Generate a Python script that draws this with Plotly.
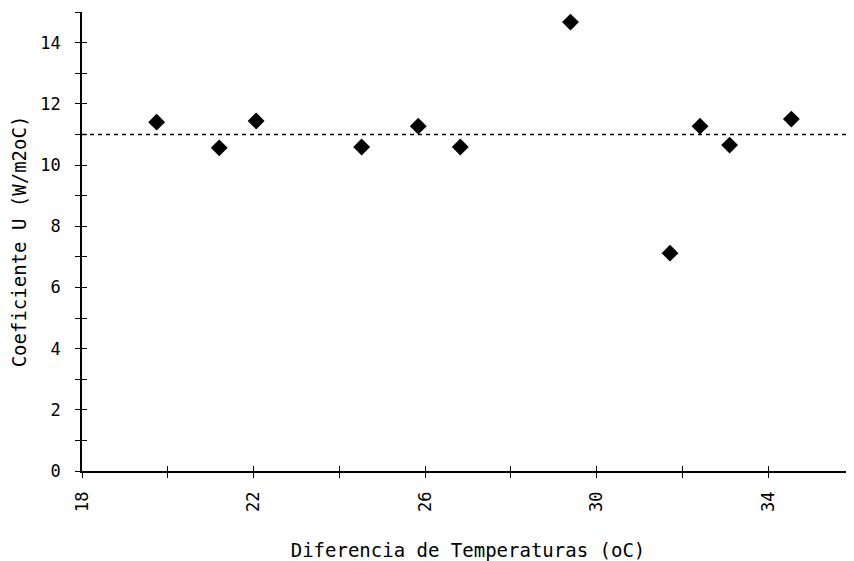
import plotly.graph_objects as go

# Data
temp_diff = [19.74, 21.2, 22.06, 24.52, 25.84, 26.82, 29.39, 31.71, 32.41, 33.1, 34.54]
u_coef = [11.4, 10.56, 11.44, 10.59, 11.27, 10.59, 14.67, 7.12, 11.27, 10.65, 11.5]
u_mean = 11.0

x_range = [18, 36]
y_range = [0, 15]
x_title = "Diferencia de Temperaturas (oC)"
y_title = "Coeficiente U (W/m2oC)"

MONO = "DejaVu Sans Mono, Liberation Mono, monospace"

fig = go.Figure()
fig.add_trace(go.Scatter(
    x=temp_diff, y=u_coef, mode="markers",
    marker=dict(symbol="diamond", size=13, color="black"),
    showlegend=False, cliponaxis=False, hoverinfo="x+y",
))
# mean line drawn on the overlay axes (which carry the inward tick marks)
fig.add_trace(go.Scatter(
    x=x_range, y=[u_mean, u_mean], mode="lines", xaxis="x2", yaxis="y2",
    line=dict(color="black", width=1.5, dash="4px,4px"),
    showlegend=False, hoverinfo="skip",
))

tick_style = dict(tickcolor="black", tickwidth=1.2, ticklen=5)
axis_common = dict(showgrid=False, zeroline=False, showline=True, linecolor="black",
                   linewidth=1.5, automargin=False, **tick_style)

# the page body adds an 8px offset, so the figure is sized to fit the 854x561 window
fig.update_layout(
    width=846, height=553,
    margin=dict(l=74, r=0, t=4, b=90),
    plot_bgcolor="white", paper_bgcolor="white",
    font=dict(family=MONO, color="black", size=17),
    xaxis=dict(range=x_range, dtick=4, tick0=18, ticks="outside", tickangle=-90,
               minor=dict(dtick=2, ticks="outside", **tick_style),
               title=dict(text=x_title, font=dict(size=19, family=MONO), standoff=38),
               tickfont=dict(size=17, family=MONO), ticklabelstandoff=7,
               **axis_common),
    yaxis=dict(range=y_range, dtick=2, tick0=0, ticks="outside",
               minor=dict(dtick=1, ticks="outside", **tick_style),
               title=dict(text=y_title, font=dict(size=19, family=MONO), standoff=16),
               tickfont=dict(size=17, family=MONO), ticklabelstandoff=11,
               **axis_common),
    xaxis2=dict(range=x_range, overlaying="x", side="bottom", anchor="y2", showgrid=False,
                zeroline=False, showticklabels=False, showline=False, ticks="inside",
                dtick=2, tick0=18, automargin=False, **tick_style),
    yaxis2=dict(range=y_range, overlaying="y", side="left", anchor="x2", showgrid=False,
                zeroline=False, showticklabels=False, showline=False, ticks="inside",
                dtick=1, tick0=0, automargin=False, **tick_style),
)

fig.write_html("out.html")
